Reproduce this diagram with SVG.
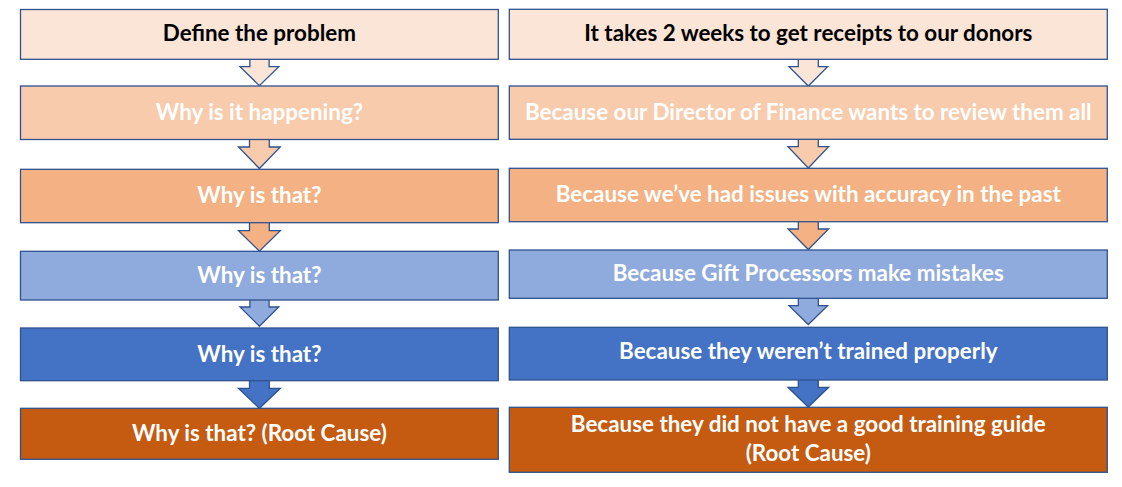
<svg xmlns="http://www.w3.org/2000/svg" width="1122" height="487" viewBox="0 0 1122 487">
<style>
.box{stroke:#2F528F;stroke-width:1.3}
.arr{stroke:#2F528F;stroke-width:1.3;stroke-linejoin:miter}
.t{font-family:Lato,"Liberation Sans",sans-serif;font-weight:bold;font-size:22.4px;text-anchor:middle;fill:#FFFFFF}
.dark{fill:#000000}
.c1{fill:#FBE5D6}.c2{fill:#F8CBAD}.c3{fill:#F4B183}.c4{fill:#8FAADC}.c5{fill:#4472C4}.c6{fill:#C55A11}
</style>
<rect width="1122" height="487" fill="#FFFFFF"/>
<g id="connectors">
<path class="arr c1" d="M249.9 59.3V66.6H240V66.6L259.4 85.6L278.8 66.6H269.1V59.3"/>
<path class="arr c2" d="M249.5 139.5V147H238.5L259.4 168.5L280.3 147H269.3V139.5"/>
<path class="arr c3" d="M249.5 222.7V230.7H238.5L259.4 251.2L280.3 230.7H269.3V222.7"/>
<path class="arr c4" d="M249.9 300V307H240L259.4 326.3L278.8 307H269.1V300"/>
<path class="arr c5" d="M249.5 380.7V388.3H238.5L259.4 408.3L280.3 388.3H269.3V380.7"/>
<path class="arr c1" d="M798.3 59.3V66.7H789L808.3 86L827.6 66.7H818.3V59.3"/>
<path class="arr c2" d="M798.3 139.3V146.7H788L808.3 168L828.6 146.7H818.3V139.3"/>
<path class="arr c3" d="M798.3 221.7V229H788L808.3 249.5L828.6 229H818.3V221.7"/>
<path class="arr c4" d="M798.3 298.3V305.7H789L808.3 324.5L827.6 305.7H818.3V298.3"/>
<path class="arr c5" d="M798.3 380V387.3H788L808.3 407L828.6 387.3H818.3V380"/>
</g>
<g id="left1"><rect class="box c1" x="20.5" y="9.5" width="477.8" height="49.8"/><text class="t dark" x="259.4" y="41">Define the problem</text></g>
<g id="left2"><rect class="box c2" x="20.5" y="86" width="477.8" height="53.5"/><text class="t" x="259.4" y="119.5">Why is it happening?</text></g>
<g id="left3"><rect class="box c3" x="20.5" y="169.3" width="477.8" height="53.4"/><text class="t" x="259.4" y="202.7">Why is that?</text></g>
<g id="left4"><rect class="box c4" x="20.5" y="251.3" width="477.8" height="48.7"/><text class="t" x="259.4" y="282.7">Why is that?</text></g>
<g id="left5"><rect class="box c5" x="20.5" y="328" width="477.8" height="52.7"/><text class="t" x="259.4" y="361.7">Why is that?</text></g>
<g id="left6"><rect class="box c6" x="20.5" y="408.3" width="477.8" height="51"/><text class="t" x="259.4" y="441">Why is that? (Root Cause)</text></g>
<g id="right1"><rect class="box c1" x="509.3" y="9.3" width="598" height="50"/><text class="t dark" x="808.3" y="41">It takes 2 weeks to get receipts to our donors</text></g>
<g id="right2"><rect class="box c2" x="509.3" y="86" width="598" height="53.3"/><text class="t" x="808.3" y="119.5">Because our Director of Finance wants to review them all</text></g>
<g id="right3"><rect class="box c3" x="509.3" y="168.3" width="598" height="53.4"/><text class="t" x="808.3" y="201.7">Because we’ve had issues with accuracy in the past</text></g>
<g id="right4"><rect class="box c4" x="509.3" y="250" width="598" height="48.3"/><text class="t" x="808.3" y="280.7">Because Gift Processors make mistakes</text></g>
<g id="right5"><rect class="box c5" x="509.3" y="327.3" width="598" height="52.7"/><text class="t" x="808.3" y="359.3">Because they weren’t trained properly</text></g>
<g id="right6"><rect class="box c6" x="509.3" y="407.3" width="598" height="65"/><text class="t" x="808.3" y="432">Because they did not have a good training guide</text><text class="t" x="808.3" y="460.5">(Root Cause)</text></g>
</svg>
